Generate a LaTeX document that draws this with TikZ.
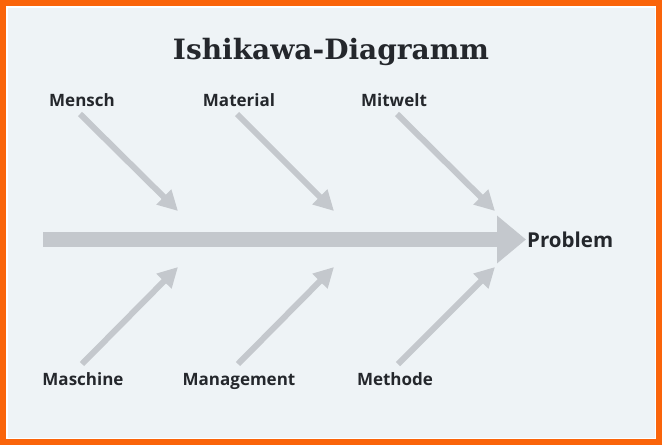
\documentclass[tikz,border=0pt]{standalone}
\usepackage{fontspec}
\setmainfont{Open Sans}
\newfontfamily\titlefont{DejaVu Serif}
\usetikzlibrary{arrows.meta}
\definecolor{frame}{HTML}{FA640A}
\definecolor{bgc}{HTML}{EEF3F6}
\definecolor{arr}{HTML}{C4C8CD}
\definecolor{ink}{HTML}{24272C}
\tikzset{
  lab/.style={text=ink,font=\fontsize{17}{19}\selectfont\bfseries,inner sep=0pt,anchor=base},
  cause/.style={draw=arr,line width=6pt,-{Triangle[length=20pt,width=20pt]}},
  spine/.style={draw=arr,line width=15pt,-{Triangle[length=29pt,width=46pt]}}
}
\begin{document}
\begin{tikzpicture}[x=1pt,y=-1pt]
\useasboundingbox (0,0) rectangle (662,445);
\fill[frame] (0,0) rectangle (662,445);
\fill[white] (6,6) rectangle (656,439);
\fill[bgc] (7.5,7.5) rectangle (654.5,437.5);
\node[text=ink,font=\titlefont\fontsize{28}{32}\selectfont\bfseries,inner sep=0pt,anchor=base] (title) at (331,59) {Ishikawa-Diagramm};
% labels
\node[lab] (mensch) at (82,106) {Mensch};
\node[lab] (material) at (239,106) {Material};
\node[lab] (mitwelt) at (394,106) {Mitwelt};
\node[lab] (maschine) at (83,385) {Maschine};
\node[lab] (management) at (239,385) {Management};
\node[lab] (methode) at (395,385) {Methode};
\node[lab,anchor=base west,font=\fontsize{20.5}{23}\selectfont\bfseries] (problem) at (527,247) {Problem};
% coordinates
\coordinate (s0) at (43,239.5);
\coordinate (t0) at (526,239.5);
\coordinate (s1) at (80,114);  \coordinate (t1) at (178,211);
\coordinate (s2) at (237,114); \coordinate (t2) at (334,211);
\coordinate (s3) at (397,114); \coordinate (t3) at (495,211);
\coordinate (s4) at (82,364);  \coordinate (t4) at (178,267);
\coordinate (s5) at (238,364); \coordinate (t5) at (334,267);
\coordinate (s6) at (398,364); \coordinate (t6) at (495,267);
\draw[spine] (s0) -- (t0);
\draw[cause] (s1) -- (t1);
\draw[cause] (s2) -- (t2);
\draw[cause] (s3) -- (t3);
\draw[cause] (s4) -- (t4);
\draw[cause] (s5) -- (t5);
\draw[cause] (s6) -- (t6);
\end{tikzpicture}
\end{document}
